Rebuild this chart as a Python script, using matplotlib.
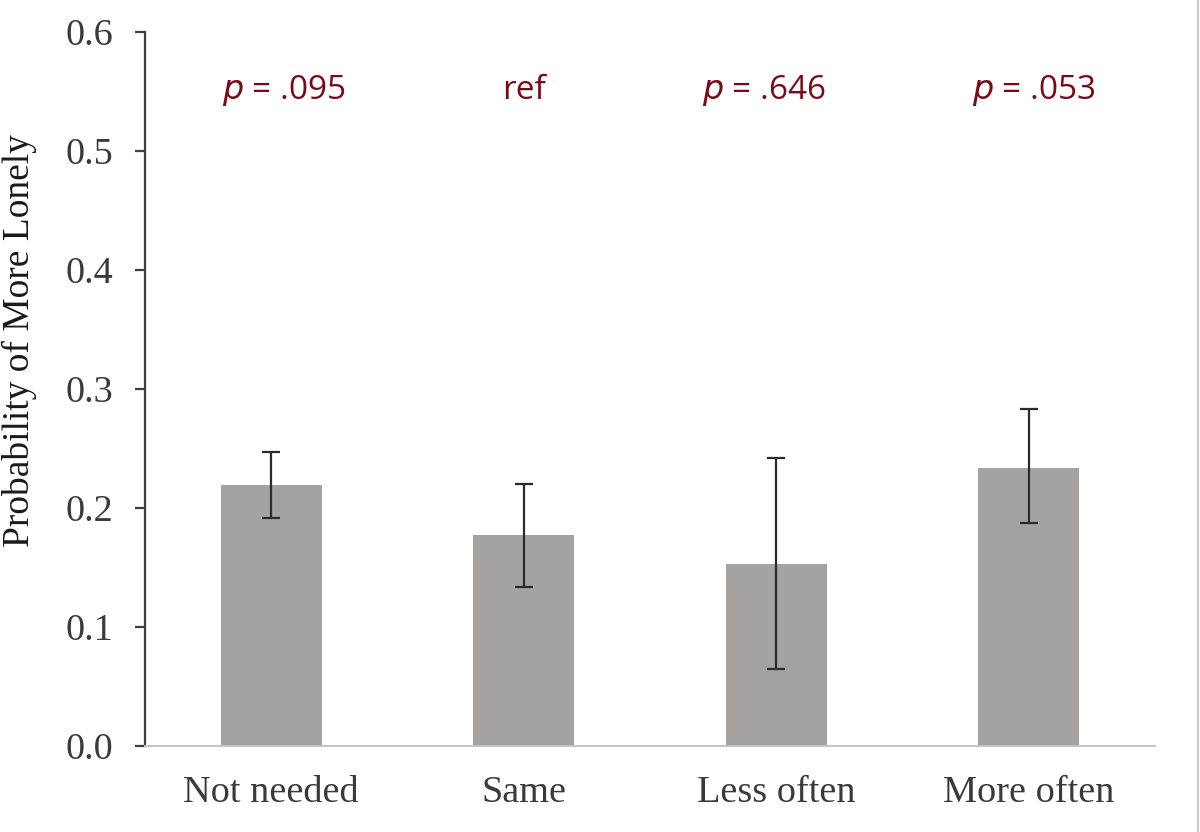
import numpy as np
import matplotlib
matplotlib.use('agg')
import matplotlib.pyplot as plt
from matplotlib.lines import Line2D

# Data
categories = ['Not needed', 'Same', 'Less often', 'More often']
probs = [0.219, 0.177, 0.153, 0.234]
ci_low = [0.192, 0.134, 0.065, 0.187]
ci_high = [0.247, 0.220, 0.242, 0.283]
p_labels = [('p', ' = .095'), (None, 'ref'), ('p', ' = .646'), ('p', ' = .053')]
yticks = [0.0, 0.1, 0.2, 0.3, 0.4, 0.5, 0.6]

bar_color = '#a5a2a2'
text_red = '#7b0a16'

fig = plt.figure(figsize=(12, 8.32), dpi=100)
ax = fig.add_axes([0.1208, 0.1034, 0.8417, 0.8581])

x = np.arange(len(categories))
yerr = np.array([np.array(probs) - np.array(ci_low), np.array(ci_high) - np.array(probs)])
ax.bar(x, probs, width=0.4, color=bar_color, zorder=2)
ax.errorbar(x, probs, yerr=yerr, fmt='none', ecolor='#2b2b2b',
            elinewidth=1.6, capsize=6.5, capthick=1.6, zorder=3)

ax.set_xlim(-0.5, 3.5)
ax.set_ylim(0, 0.6)
ax.set_yticks(yticks)
ax.set_yticklabels(['%.1f' % t for t in yticks])
ax.set_xticks(x)
ax.set_xticklabels(categories)

serif = 'Liberation Serif'
for lab in ax.get_xticklabels() + ax.get_yticklabels():
    lab.set_fontfamily(serif)
    lab.set_fontsize(27.5)
    lab.set_color('#3a3a3a')

# y label placed in figure coords to match the reference
fig.text(19 / 1200, 0.591, 'Probability of More Lonely', rotation=90,
         ha='center', va='center', fontfamily=serif, fontsize=27, color='#1a1a1a')

ax.spines['top'].set_visible(False)
ax.spines['right'].set_visible(False)
ax.spines['left'].set_color('#3f3f3f')
ax.spines['left'].set_linewidth(1.6)
ax.spines['bottom'].set_color('#c4c4c4')
ax.spines['bottom'].set_linewidth(1.4)
ax.tick_params(axis='y', direction='out', length=7, width=1.6, color='#3f3f3f', pad=16)
ax.tick_params(axis='x', length=0, pad=21)

# p-value annotations (text boxes sit slightly off the bar centres)
label_dx = [0.05, 0.0, -0.05, 0.02]
for xi, dx, (it, rest) in zip(x, label_dx, p_labels):
    txt = rest if it is None else r'$\it{p}$' + rest
    ax.text(xi + dx, 0.551, txt, ha='center', va='center', fontsize=24,
            fontfamily='Open Sans', color=text_red)

# thin border line at right edge of the image
fig.add_artist(Line2D([0.9985, 0.9985], [0, 1], transform=fig.transFigure,
                      color='#c8c8c8', linewidth=1.5))

fig.savefig('out.png', dpi=100)
